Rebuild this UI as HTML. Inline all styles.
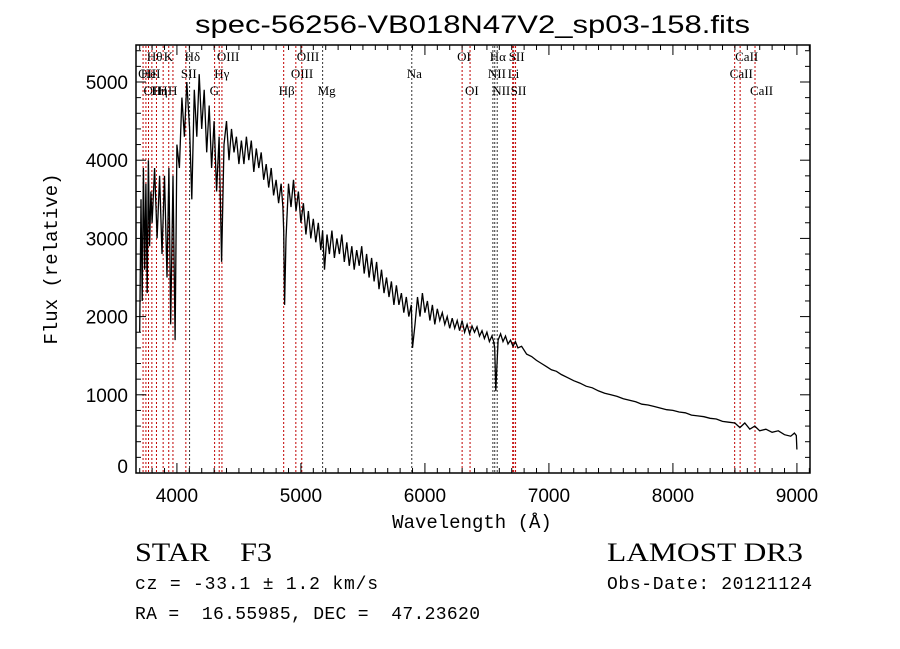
<!DOCTYPE html>
<html><head><meta charset="utf-8"><style>
body{margin:0;background:#fff;width:900px;height:649px;overflow:hidden}
svg{display:block}
.lab{font-family:"Liberation Serif",serif;font-size:13px}
</style></head><body>
<svg id="chart" width="900" height="649" viewBox="0 0 900 649" xmlns="http://www.w3.org/2000/svg">
<rect width="900" height="649" fill="#fff"/>
<text x="195" y="33" textLength="555" lengthAdjust="spacingAndGlyphs" font-family="Liberation Sans, sans-serif" font-size="25">spec-56256-VB018N47V2_sp03-158.fits</text>
<g id="lines"></g>
<g id="ticks"></g>
<path id="spec" fill="none" stroke="#000" stroke-width="1.3"/>
<rect x="136" y="45" width="674" height="428" fill="none" stroke="#000" stroke-width="1.5"/>
<text x="472" y="528" text-anchor="middle" font-family="Liberation Mono, monospace" font-size="19">Wavelength (Å)</text>
<text transform="translate(57,259) rotate(-90)" text-anchor="middle" font-family="Liberation Mono, monospace" font-size="19">Flux (relative)</text>
<text x="135" y="561" textLength="137" lengthAdjust="spacingAndGlyphs" font-family="Liberation Serif, serif" font-size="26" xml:space="preserve">STAR    F3</text>
<text x="607" y="561" textLength="196" lengthAdjust="spacingAndGlyphs" font-family="Liberation Serif, serif" font-size="26">LAMOST DR3</text>
<text x="135" y="589" textLength="243" font-family="Liberation Mono, monospace" font-size="18">cz = -33.1 ± 1.2 km/s</text>
<text x="607" y="589" textLength="205" font-family="Liberation Mono, monospace" font-size="18">Obs-Date: 20121124</text>
<text x="135" y="619" textLength="345" font-family="Liberation Mono, monospace" font-size="18" xml:space="preserve">RA =  16.55985, DEC =  47.23620</text>
</svg>
<script>
const wavelengths=[3700,3710,3720,3730,3740,3750,3760,3770,3780,3790,3800,3820,3840,3860,3880,3900,3920,3935,3950,3968,3985,4000,4020,4040,4060,4080,4102,4120,4140,4160,4180,4200,4220,4240,4260,4280,4300,4320,4340,4360,4380,4400,4420,4440,4460,4480,
4500,4520,4540,4560,4580,4600,4620,4640,4660,4680,4700,4720,4740,4760,4780,4800,4820,4840,4855,4861,4868,4880,4900,4920,4940,4960,4980,5000,5020,5040,5060,5080,5100,5120,5140,5160,5175,5190,5210,5230,5250,5270,5290,5310,5330,5350,5370,5390,5410,5430,5450,5470,5490,5510,5530,5550,5570,5590,5610,5630,5650,5670,5690,5710,5730,5750,5770,5790,5810,5830,5850,5870,5890,5900,5920,5940,5960,5980,6000,6020,6040,6060,6080,6100,6120,6140,6160,6180,6200,6220,6240,6260,6280,6300,6320,6340,6360,6380,6400,6420,6440,6460,6480,6500,6520,6540,6555,6563,6572,6590,6610,6630,6650,6670,6690,6710,6730,6750,
6780,6820,6860,6900,6940,6980,7020,7060,7100,7150,7200,7250,7300,7350,7400,7450,7500,7550,7600,7650,7700,7750,7800,7850,7900,7950,8000,8050,8100,8150,8200,8250,8300,8350,8400,8450,8500,8540,8580,8620,8660,8700,8750,8800,8850,8900,8950,8980,8995,9000];
const fluxes=[1800,3500,2200,3900,2600,3700,2300,4000,2900,3600,3200,3900,3000,3800,2800,3800,2500,3900,1900,3800,1700,4200,3900,4800,4300,5000,4400,3500,4900,4300,5100,4400,4900,4100,4700,3900,4500,3600,4300,2700,4200,4500,4000,4400,4100,4300,3950,
4250,3950,4300,4000,4250,3850,4150,3900,4100,3750,3950,3650,3900,3550,3750,3450,3700,3400,3100,2150,3000,3700,3400,3750,3350,3600,3200,3450,3050,3350,3000,3250,2950,3200,2850,3100,2600,3050,2800,3100,2750,3000,2800,3050,2700,2950,2650,2900,2600,2850,2650,2900,2550,2800,2500,2750,2450,2700,2350,2600,2300,2500,2250,2450,2150,2400,2150,2300,2050,2250,2000,2150,1600,1900,2250,2000,2300,2050,2200,1950,2150,1900,2100,1950,2050,1900,2000,1850,1980,1850,1950,1820,1950,1800,1900,1780,1880,1800,1870,1750,1820,1720,1800,1680,1750,1680,1600,1050,1700,1780,1680,1750,1650,1700,1620,1680,1600,1620,
1520,1490,1440,1400,1360,1320,1300,1260,1220,1180,1150,1110,1090,1050,1020,1000,980,950,930,910,880,870,850,830,810,800,780,770,740,730,720,700,690,660,650,640,580,640,560,600,540,560,520,540,490,470,510,480,300,0];
const xTicks=[4000,5000,6000,7000,8000,9000];
const yTicks=[0,1000,2000,3000,4000,5000];
const lineWl=[3727,3750,3771,3798,3835,3889,3934,3968,4072,4102,4304,4341,4363,4861,4959,5007,5175,5894,6300,6364,6548,6563,6583,6708,6716,6731,8498,8542,8662];
const lineRed=[1,1,1,1,1,1,1,1,1,0,1,1,1,1,1,1,0,0,1,1,0,0,0,1,1,1,1,1,1];
const labelText=["OII","HeI","OII","Hθ","Hη","H","K","H","SII","Hδ","G","Hγ","OIII","Hβ","OIII","OIII","Mg","Na","OI","OI","NII","Hα","NII","Li","SII","SII","CaII","CaII","CaII"];
const labelRow=[1,1,2,0,2,2,0,2,1,0,2,1,0,2,1,0,2,1,0,2,1,0,2,1,0,2,1,0,2];
const X=w=>136+(w-3670)*0.124;
const Y=f=>473-f*0.0782;
const NS="http://www.w3.org/2000/svg";
const gl=document.getElementById('lines');
lineWl.forEach((w,i)=>{
 const l=document.createElementNS(NS,'line');
 
 
 l.setAttribute('x1',X(w));l.setAttribute('x2',X(w));l.setAttribute('y1',46);l.setAttribute('y2',472);
 l.setAttribute('stroke',lineRed[i]?'#c00000':'#333');l.setAttribute('stroke-width','1');l.setAttribute('stroke-dasharray','2,2');
 gl.appendChild(l);
 const t=document.createElementNS(NS,'text');
 
 
 t.setAttribute('class','lab');
 t.setAttribute('x',X(w)-5);t.setAttribute('y',61+labelRow[i]*17);
 t.textContent=labelText[i];
 gl.appendChild(t);
});
const gt=document.getElementById('ticks');
function tick(x1,y1,x2,y2){const l=document.createElementNS(NS,'line');
 
 
 l.setAttribute('x1',x1);l.setAttribute('y1',y1);l.setAttribute('x2',x2);l.setAttribute('y2',y2);l.setAttribute('stroke','#000');gt.appendChild(l);}
for(let w=3700;w<=9100;w+=100){const x=X(w);const L=(w%1000===0)?10:5;tick(x,473,x,473-L);tick(x,45,x,45+L);}
for(let f=0;f<=5400;f+=200){const y=Y(f);const L=(f%1000===0)?10:5;tick(136,y,136+L,y);tick(810,y,810-L,y);}
xTicks.forEach(v=>{const t=document.createElementNS(NS,'text');
 
 
 t.setAttribute('x',X(v));t.setAttribute('y',502);t.setAttribute('text-anchor','middle');
 t.setAttribute('font-family','Liberation Sans, sans-serif');t.setAttribute('font-size','19');t.textContent=v;gt.appendChild(t);});
yTicks.forEach(v=>{const t=document.createElementNS(NS,'text');
 
 
 t.setAttribute('x',128);t.setAttribute('y',Math.min(Y(v)+7,473));t.setAttribute('text-anchor','end');
 t.setAttribute('font-family','Liberation Sans, sans-serif');t.setAttribute('font-size','19');t.textContent=v;gt.appendChild(t);});
document.getElementById('spec').setAttribute('d',wavelengths.map((w,i)=>(i?'L':'M')+X(w).toFixed(1)+','+Y(fluxes[i]).toFixed(1)).join(''));
</script>
</body></html>
